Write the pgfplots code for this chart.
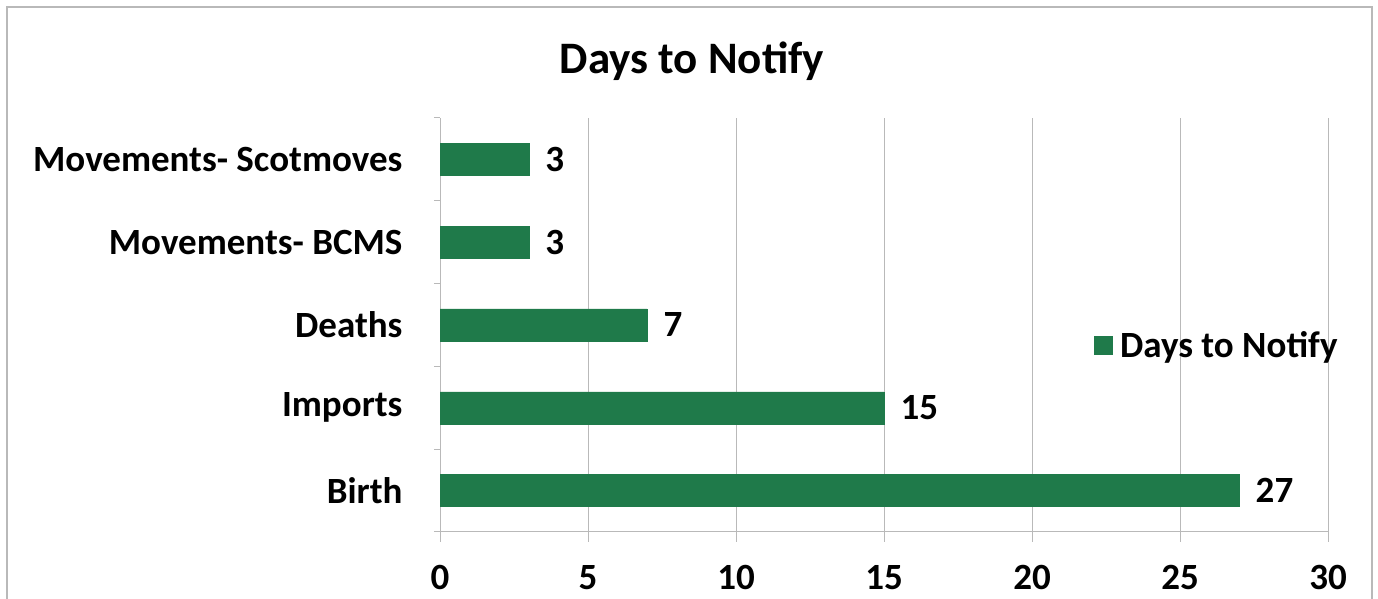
\documentclass[border=0pt]{standalone}
\usepackage{fontspec}
\setmainfont{Carlito}
\usepackage{pgfplots}
\pgfplotsset{compat=1.18}
\definecolor{barg}{RGB}{31,122,74}
\definecolor{gridg}{RGB}{185,185,185}
\begin{document}
\begin{tikzpicture}[x=1pt,y=1pt]
\useasboundingbox (0,0) rectangle (1378,599);
\draw[gridg,line width=1.5pt] (7,-5) -- (7,592) -- (1372,592) -- (1372,-5);
\node[font=\fontsize{45}{52}\selectfont\bfseries] at (692,538) {Days to Notify};
\begin{axis}[
  at={(440pt,67pt)}, anchor=south west,
  scale only axis, width=888pt, height=414pt,
  xmin=0, xmax=30, ymin=-0.5, ymax=4.5,
  xtick={0,5,...,30},
  ytick={0,1,2,3,4},
  yticklabels={Birth,Imports,Deaths,Movements- BCMS,Movements- Scotmoves},
  minor ytick={-0.5,0.5,1.5,2.5,3.5,4.5},
  axis x line*=bottom, axis y line*=left,
  axis line style={gridg,line width=1pt},
  x axis line style={-}, y axis line style={-},
  xmajorgrids, major grid style={gridg,line width=1pt},
  major y tick style={draw=none},
  minor y tick style={gridg,line width=1pt},
  major x tick style={gridg,line width=1pt},
  tick align=outside,
  major tick length=10pt, minor tick length=6pt,
  /pgf/number format/assume math mode=true,
  ticklabel style={font=\fontsize{37}{42}\selectfont\bfseries},
  yticklabel style={xshift=-24pt},
  xticklabel style={yshift=-20pt},
  xbar, bar width=32pt,
  nodes near coords,
  nodes near coords style={font=\fontsize{37}{42}\selectfont\bfseries, xshift=13pt},
  legend style={at={(0.736,0.452)}, anchor=west, draw=none, fill=none,
    font=\fontsize{37}{42}\selectfont\bfseries, inner sep=0pt, nodes={inner xsep=8pt, inner ysep=0pt}},
  legend image code/.code={\fill[barg] (0pt,-9pt) rectangle (18pt,9pt);},
]
\addplot[fill=barg, draw=barg] coordinates {(27,0) (15,1) (7,2) (3,3) (3,4)};
\addlegendentry{Days to Notify}
\end{axis}
\end{tikzpicture}
\end{document}
